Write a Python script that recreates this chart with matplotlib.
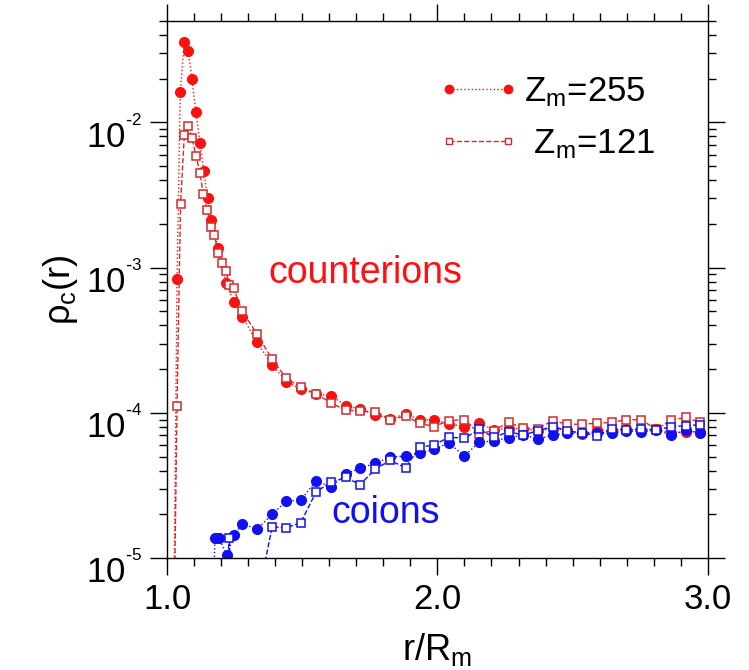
import numpy as np
import matplotlib
matplotlib.use("Agg")
import matplotlib.pyplot as plt
from matplotlib.lines import Line2D
from matplotlib.transforms import ScaledTranslation
from matplotlib.ticker import MultipleLocator, LogLocator, FuncFormatter, NullFormatter

plt.rcParams['font.family'] = ['Liberation Sans', 'DejaVu Sans']
plt.rcParams['mathtext.default'] = 'regular'

# counterions, Z_m = 255 (filled circles)
r_ci_255 = [1.022, 1.037, 1.049, 1.064, 1.079, 1.092, 1.107, 1.122, 1.136, 1.150,
            1.162, 1.189, 1.218, 1.248, 1.279, 1.332, 1.389, 1.441, 1.494, 1.552,
            1.607, 1.662, 1.713, 1.771, 1.824, 1.882, 1.934, 1.987, 2.042, 2.100,
            2.155, 2.208, 2.263, 2.318, 2.373, 2.426, 2.480, 2.536, 2.591, 2.646,
            2.699, 2.754, 2.810, 2.865, 2.918, 2.972]
rho_ci_255 = [1e-6, 8.3e-4, 1.62e-2, 3.6e-2, 3.08e-2, 1.98e-2, 1.18e-2, 7.2e-3, 4.6e-3, 3.0e-3,
              2.14e-3, 1.37e-3, 7.8e-4, 5.8e-4, 4.6e-4, 3.07e-4, 2.14e-4, 1.64e-4, 1.46e-4, 1.35e-4,
              1.31e-4, 1.12e-4, 1.06e-4, 9.7e-5, 9.1e-5, 9.8e-5, 9.0e-5, 8.95e-5, 8.4e-5, 8.05e-5,
              8.5e-5, 7.6e-5, 7.8e-5, 7.8e-5, 7.5e-5, 7.8e-5, 7.6e-5, 7.1e-5, 7.6e-5, 7.5e-5,
              7.7e-5, 7.6e-5, 7.7e-5, 7.3e-5, 7.4e-5, 7.4e-5]

# counterions, Z_m = 121 (open squares)
r_ci_121 = [1.022, 1.037, 1.050, 1.064, 1.079, 1.092, 1.107, 1.122, 1.134, 1.149,
            1.162, 1.175, 1.189, 1.203, 1.218, 1.230, 1.246, 1.279, 1.332, 1.389,
            1.441, 1.494, 1.552, 1.607, 1.662, 1.713, 1.771, 1.824, 1.882, 1.934,
            1.987, 2.042, 2.100, 2.155, 2.208, 2.263, 2.318, 2.373, 2.426, 2.480,
            2.536, 2.591, 2.646, 2.699, 2.754, 2.810, 2.865, 2.918, 2.972]
rho_ci_121 = [1e-6, 1.12e-4, 2.75e-3, 8.2e-3, 9.4e-3, 7.8e-3, 5.9e-3, 4.45e-3, 3.2e-3, 2.5e-3,
              1.9e-3, 1.69e-3, 1.26e-3, 1.08e-3, 9.5e-4, 7.6e-4, 7.2e-4, 5.0e-4, 3.5e-4, 2.34e-4,
              1.73e-4, 1.50e-4, 1.35e-4, 1.17e-4, 1.04e-4, 1.03e-4, 1.02e-4, 9.0e-5, 9.5e-5, 8.5e-5,
              8.05e-5, 8.85e-5, 9.0e-5, 7.2e-5, 7.55e-5, 8.6e-5, 7.85e-5, 7.8e-5, 8.85e-5, 8.35e-5,
              8.35e-5, 8.5e-5, 8.6e-5, 9.0e-5, 8.95e-5, 7.7e-5, 8.95e-5, 9.3e-5, 8.6e-5]

# coions, Z_m = 255 (filled circles)
r_co_255 = [1.162, 1.177, 1.193, 1.221, 1.248, 1.279, 1.332, 1.389, 1.441, 1.494,
            1.552, 1.607, 1.662, 1.713, 1.771, 1.824, 1.882, 1.934, 1.987, 2.042,
            2.100, 2.155, 2.208, 2.263, 2.318, 2.373, 2.426, 2.480, 2.536, 2.591,
            2.646, 2.699, 2.754, 2.810, 2.865, 2.918, 2.972]
rho_co_255 = [1e-6, 1.38e-5, 1.37e-5, 1.05e-5, 1.44e-5, 1.73e-5, 1.58e-5, 2.0e-5, 2.47e-5, 2.51e-5,
              3.4e-5, 3.1e-5, 3.8e-5, 4.15e-5, 4.5e-5, 4.95e-5, 5.05e-5, 5.3e-5, 5.6e-5, 6.2e-5,
              5.05e-5, 6.3e-5, 6.4e-5, 6.75e-5, 7.05e-5, 6.6e-5, 7.05e-5, 7.25e-5, 7.25e-5, 7.25e-5,
              7.25e-5, 7.55e-5, 7.4e-5, 7.6e-5, 7.05e-5, 7.6e-5, 7.25e-5]

# coions, Z_m = 121 (open squares)
r_co_121 = [1.203, 1.230, 1.246, 1.279, 1.332, 1.389, 1.441, 1.494, 1.552, 1.607,
            1.662, 1.713, 1.771, 1.824, 1.882, 1.934, 1.987, 2.042, 2.100, 2.155,
            2.208, 2.263, 2.318, 2.373, 2.426, 2.480, 2.536, 2.591, 2.646, 2.699,
            2.754, 2.810, 2.865, 2.918, 2.972]
rho_co_121 = [2e-6, 1.38e-5, 3e-6, 2e-6, 5e-6, 1.64e-5, 1.62e-5, 1.75e-5, 2.87e-5, 3.33e-5,
              3.6e-5, 3.2e-5, 4.1e-5, 4.7e-5, 4.2e-5, 5.8e-5, 6.0e-5, 6.8e-5, 6.7e-5, 7.7e-5,
              6.8e-5, 7.4e-5, 7.05e-5, 7.55e-5, 8.05e-5, 7.55e-5, 7.25e-5, 6.95e-5, 7.8e-5, 7.6e-5,
              7.8e-5, 7.6e-5, 8.05e-5, 8.15e-5, 8.3e-5]

y_ticks = [1e-5, 1e-4, 1e-3, 1e-2]
y_ticklabels = [r'$10^{{}^{\text{-}%d}}$' % k for k in (5, 4, 3, 2)]

red = '#ff1010'
red2 = '#d42a2a'
blue = '#1010f0'

fig = plt.figure(figsize=(7.49, 6.70), dpi=100)
ax = fig.add_axes([0.223, 0.167, 0.722, 0.802])

ax.plot(r_ci_255, rho_ci_255, ls=':', lw=1, color=red, marker='o', ms=7,
        mfc=red, mec=red)
ax.plot(r_ci_121, rho_ci_121, ls='--', lw=1, color=red2, marker='s', ms=6,
        mfc='white', mec=red2, mew=1.1)
ax.plot(r_co_255, rho_co_255, ls=':', lw=1, color=blue, marker='o', ms=7,
        mfc=blue, mec=blue)
ax.plot(r_co_121, rho_co_121, ls='--', lw=1, color=blue, marker='s', ms=6,
        mfc='white', mec=blue, mew=1.1)

ax.set_yscale('log')
ax.set_xlim(1.0, 3.0)
ax.set_ylim(1e-5, 5.01e-2)

ax.xaxis.set_major_locator(MultipleLocator(1.0))
ax.xaxis.set_minor_locator(MultipleLocator(0.1))
ax.xaxis.set_major_formatter(FuncFormatter(lambda v, p: '%.1f' % v))
ax.yaxis.set_minor_locator(LogLocator(base=10, subs=np.arange(2, 10)))
ax.yaxis.set_minor_formatter(NullFormatter())
ax.set_yticks(y_ticks)
ax.set_yticklabels(y_ticklabels)

ax.tick_params(which='both', direction='out', top=True, right=True,
               width=1, labelsize=25)
ax.tick_params(which='major', length=12, pad=6)
ax.tick_params(which='minor', length=5.5)
for s in ax.spines.values():
    s.set_linewidth(1)

# the "10" of each y label sits just under its tick in the original
shift = ScaledTranslation(0, -0.09, fig.dpi_scale_trans)
for lab in ax.get_yticklabels():
    lab.set_va('center_baseline')
    lab.set_transform(lab.get_transform() + shift)

ax.set_xlabel('r/R$_m$', fontsize=26, labelpad=11)
ax.set_ylabel('ρ$_c$(r)', fontsize=26, labelpad=4)

ax.text(0.366, 0.531, 'counterions', color=red, fontsize=27,
        ha='center', va='center', transform=ax.transAxes)
ax.text(0.405, 0.084, 'coions', color=blue, fontsize=27,
        ha='center', va='center', transform=ax.transAxes)

handles = [
    Line2D([], [], ls=':', lw=1, color=red, marker='o', ms=6, mfc=red, mec=red),
    Line2D([], [], ls='--', lw=1, color=red2, marker='s', ms=5, mfc='white', mec=red2),
]
ax.legend(handles, ['$Z_m$=255', ' $Z_m$=121'], loc='upper left',
          bbox_to_anchor=(0.503, 0.898), frameon=False, fontsize=25,
          numpoints=2, handlelength=2.3, handletextpad=0.15,
          borderpad=0, borderaxespad=0, labelspacing=0.52)

fig.savefig('out.png', dpi=100)
